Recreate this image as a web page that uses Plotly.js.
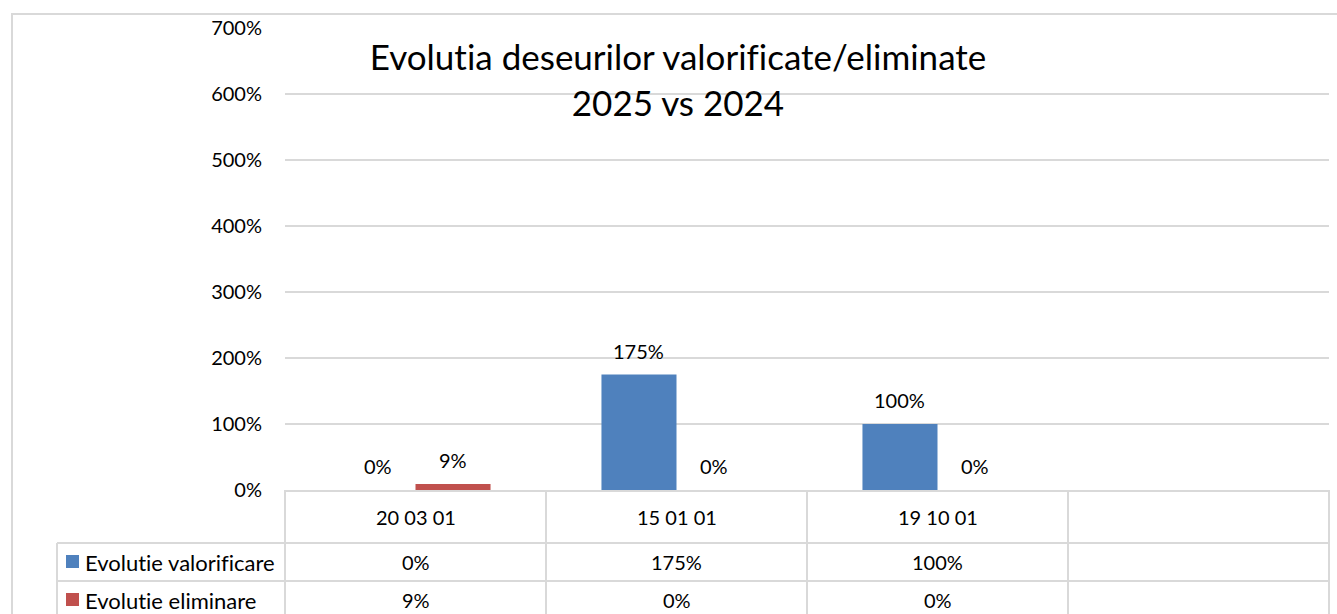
<!DOCTYPE html>
<html>
<head>
<meta charset="utf-8">
<script src="https://cdn.plot.ly/plotly-3.0.1.min.js"></script>
<style>html,body{margin:0;padding:0;background:#fff;}#chart{width:1337px;height:614px;}
svg text{font-variant-ligatures:none;font-feature-settings:"liga" 0,"clig" 0;}</style>
</head>
<body>
<div id="chart"></div>
<script>
const categories = ["20 03 01", "15 01 01", "19 10 01", ""];
const seriesNames = ["Evolutie valorificare", "Evolutie eliminare"];
const valorificare = [0, 175, 100];
const eliminare = [9, 0, 0];
const seriesColors = ["#4f81bd", "#c0504d"];
const yTicks = [0, 100, 200, 300, 400, 500, 600, 700];
const titleText = "Evolutia deseurilor valorificate/eliminate<br>2025 vs 2024";

const FONT = "Lato, 'Open Sans', sans-serif";
const W = 1337, H = 614;
const L = 285, R = 1329, T = 28, B = 490;
const PW = R - L, PH = B - T;
const px2x = p => (p - L) / PW;          // pixel x -> paper x
const py2y = p => (B - p) / PH;          // pixel y -> paper y

const series = [valorificare, eliminare];
const idx = valorificare.map((_, i) => i);

const traces = series.map((vals, s) => ({
  type: "bar",
  name: seriesNames[s],
  x: idx,
  y: vals,
  marker: { color: seriesColors[s] },
  hoverinfo: "skip",
  showlegend: false
}));

const bargap = 0.425;
const barW = (1 - bargap) / 2;

const annotations = [];
const shapes = [];

// data labels above bars
series.forEach((vals, s) => {
  vals.forEach((v, i) => {
    annotations.push({
      xref: "x", yref: "y",
      x: i + (s === 0 ? -barW / 2 : barW / 2),
      y: v,
      text: v + "%",
      showarrow: false,
      yanchor: "middle",
      yshift: 24,
      font: { family: FONT, size: 20, color: "#000" }
    });
  });
});

// data table rows
const rowHeaderY = 517, row1Y = 562, row2Y = 600;
categories.forEach((c, i) => {
  annotations.push({ xref: "x", yref: "paper", x: i, y: py2y(rowHeaderY), text: c, showarrow: false,
    yanchor: "middle", font: { family: FONT, size: 20, color: "#000" } });
});
series.forEach((vals, s) => {
  const yy = s === 0 ? row1Y : row2Y;
  vals.forEach((v, i) => {
    annotations.push({ xref: "x", yref: "paper", x: i, y: py2y(yy), text: v + "%", showarrow: false,
      yanchor: "middle", font: { family: FONT, size: 20, color: "#000" } });
  });
  // legend key
  shapes.push({ type: "rect", xref: "paper", yref: "paper",
    x0: px2x(66), x1: px2x(79), y0: py2y(yy - 7), y1: py2y(yy + 6),
    fillcolor: seriesColors[s], line: { width: 0 } });
  annotations.push({ xref: "paper", yref: "paper", x: px2x(83), y: py2y(yy), xanchor: "left",
    yanchor: "middle", text: seriesNames[s], showarrow: false,
    font: { family: FONT, size: 22, color: "#000" } });
});

const gridC = "#d9d9d9";
// table grid lines
const vlines = [285, 546, 807, 1068, 1329];
vlines.forEach(xp => shapes.push({ type: "line", xref: "paper", yref: "paper",
  x0: px2x(xp), x1: px2x(xp), y0: py2y(490), y1: py2y(620), line: { color: gridC, width: 2 } }));
shapes.push({ type: "line", xref: "paper", yref: "paper", x0: px2x(57), x1: px2x(57),
  y0: py2y(543), y1: py2y(620), line: { color: gridC, width: 2 } });
[543, 581].forEach(yp => shapes.push({ type: "line", xref: "paper", yref: "paper",
  x0: px2x(57), x1: px2x(1329), y0: py2y(yp), y1: py2y(yp), line: { color: gridC, width: 2 } }));
// outer chart border
shapes.push({ type: "rect", xref: "paper", yref: "paper",
  x0: px2x(12), x1: px2x(1345), y0: py2y(14), y1: py2y(630),
  line: { color: gridC, width: 2 }, fillcolor: "rgba(0,0,0,0)" });

const layout = {
  width: W, height: H,
  margin: { l: L, r: W - R, t: T, b: H - B, pad: 0 },
  paper_bgcolor: "#fff", plot_bgcolor: "#fff",
  barmode: "group", bargap: bargap, bargroupgap: 0,
  title: { text: titleText, x: 678 / W, xanchor: "center", y: 1 - 70 / H, yanchor: "middle",
    font: { family: FONT, size: 35, color: "#000" } },
  xaxis: { range: [-0.5, 3.5], showticklabels: false, showgrid: false, zeroline: false,
    showline: true, linecolor: gridC, linewidth: 2, ticks: "", fixedrange: true },
  yaxis: { range: [0, 700], tickvals: yTicks, ticktext: yTicks.map(v => v + "%"),
    showgrid: true, gridcolor: gridC, gridwidth: 2, zeroline: false, showline: false,
    ticks: "", ticklabelstandoff: 22, tickfont: { family: FONT, size: 20, color: "#000" }, fixedrange: true },
  annotations: annotations,
  shapes: shapes,
  showlegend: false
};

Plotly.newPlot("chart", traces, layout, { displayModeBar: false, staticPlot: true });
</script>
</body>
</html>
